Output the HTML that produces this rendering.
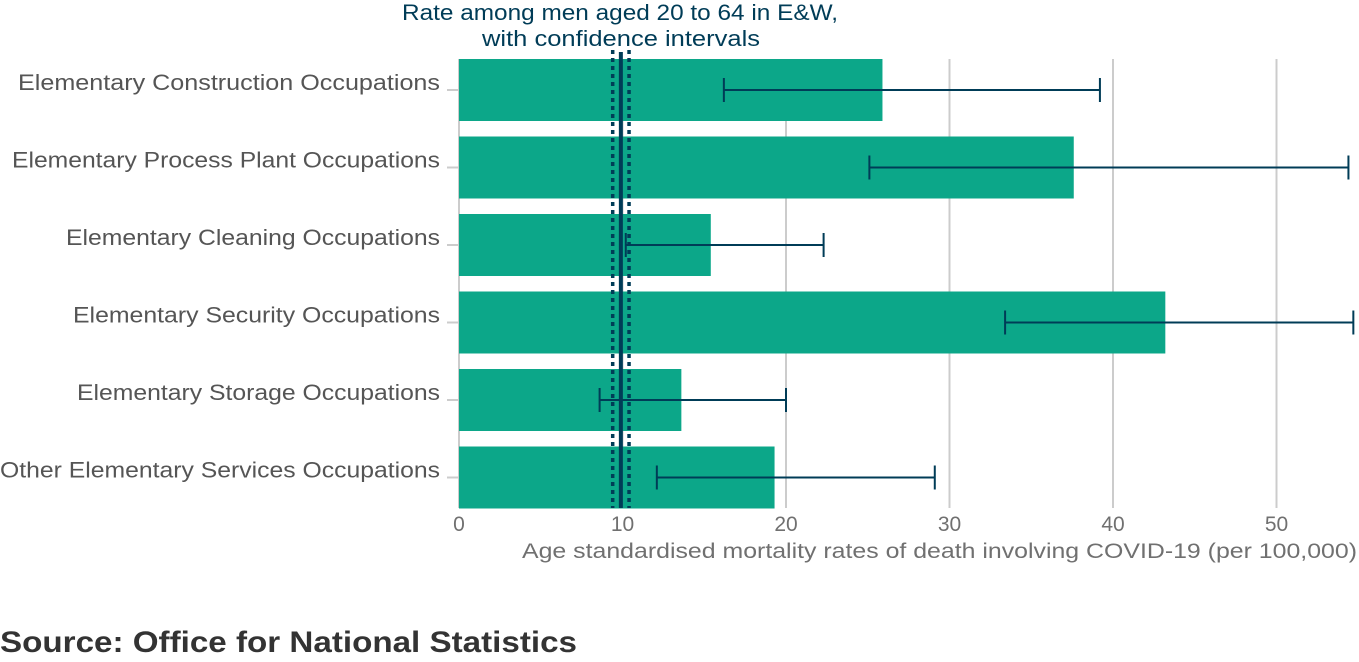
<!DOCTYPE html>
<html><head><meta charset="utf-8"><style>
body{margin:0;background:#fff;width:1359px;height:657px;overflow:hidden;font-family:"Liberation Sans",sans-serif}
</style></head><body>
<svg id="chart" width="1359" height="657" xmlns="http://www.w3.org/2000/svg" font-family="Liberation Sans, sans-serif">
<g id="grid"></g>
<g id="bars"></g>
<g id="ref"></g>
<g id="errs"></g>
<g id="labels"></g>
<g id="xt"></g>
<text x="402" y="20" textLength="436" lengthAdjust="spacingAndGlyphs" font-size="22" fill="#003c57">Rate among men aged 20 to 64 in E&amp;W,</text>
<text x="482" y="46" textLength="278" lengthAdjust="spacingAndGlyphs" font-size="22" fill="#003c57">with confidence intervals</text>
<text x="522" y="558" textLength="835" lengthAdjust="spacingAndGlyphs" font-size="21" fill="#707070">Age standardised mortality rates of death involving COVID-19 (per 100,000)</text>
<text x="0" y="652" textLength="577" lengthAdjust="spacingAndGlyphs" font-size="30" font-weight="bold" fill="#333">Source: Office for National Statistics</text>
</svg>
<script>
const categories=["Elementary Construction Occupations","Elementary Process Plant Occupations","Elementary Cleaning Occupations","Elementary Security Occupations","Elementary Storage Occupations","Other Elementary Services Occupations"];
const values=[25.9,37.6,15.4,43.2,13.6,19.3];
const lower=[16.2,25.1,10.2,33.4,8.6,12.1];
const upper=[39.2,54.4,22.3,54.7,20.0,29.1];
const ticks=[0,10,20,30,40,50];
const refRate=9.9, refLow=9.4, refHigh=10.4;
const labelWidths=[422,428,374,367,363,440];
const NS="http://www.w3.org/2000/svg";
const x=v=>459+v*16.35;
const yc=i=>90+i*77.5;
function mk(p,t,a){const e=document.createElementNS(NS,t);for(const k in a)e.setAttribute(k,a[k]);document.getElementById(p).appendChild(e);return e;}
ticks.forEach(t=>{
 const g=mk('grid','line',{x1:x(t),x2:x(t),y1:59,y2:508,stroke:'#cccccc','stroke-width':2});
 
 
 const l=mk('xt','text',{x:x(t),y:531,'text-anchor':'middle','font-size':21,fill:'#707070'});
 l.textContent=t;
 
 
});
categories.forEach((c,i)=>{
 const y=yc(i);
 const tk=mk('grid','line',{x1:447,x2:459,y1:y,y2:y,stroke:'#cccccc','stroke-width':2});
 
 
 const b=mk('bars','rect',{x:x(0),y:y-31,width:x(values[i])-x(0),height:62,fill:'#0ca789'});
 
 
 const e=mk('errs','path',{d:`M${x(lower[i])},${y-12}V${y+12}M${x(lower[i])},${y}H${x(upper[i])}M${x(upper[i])},${y-12}V${y+12}`,stroke:'#003c57','stroke-width':2,fill:'none'});
 
 
 const t=mk('labels','text',{x:440,y:y,'text-anchor':'end','font-size':22,fill:'#555'});
 t.textContent=c;
 t.setAttribute('textLength',labelWidths[i]);
 t.setAttribute('lengthAdjust','spacingAndGlyphs');
 
 
});
[refLow,refHigh].forEach(v=>{
 const d=mk('ref','line',{x1:x(v),x2:x(v),y1:50,y2:508,stroke:'#003c57','stroke-width':3.5,'stroke-dasharray':'4 4'});
 
 
});
const r=mk('ref','line',{x1:x(refRate),x2:x(refRate),y1:52,y2:508,stroke:'#003c57','stroke-width':4});


</script>
</body></html>
